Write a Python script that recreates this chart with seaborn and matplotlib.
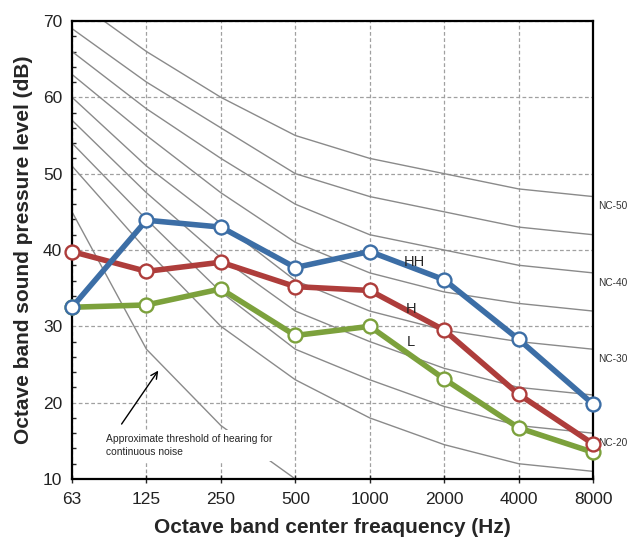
import numpy as np
import pandas as pd
import matplotlib
matplotlib.use("Agg")
import matplotlib.pyplot as plt
import seaborn as sns

freqs = ["63", "125", "250", "500", "1000", "2000", "4000", "8000"]

hh = [32.5, 43.9, 43.0, 37.7, 39.8, 36.1, 28.3, 19.8]
h = [39.8, 37.2, 38.4, 35.2, 34.7, 29.5, 21.1, 14.6]
l = [32.5, 32.8, 34.9, 28.8, 30.0, 23.1, 16.7, 13.5]

nc_names = ["NC-50", "NC-45", "NC-40", "NC-35", "NC-30", "NC-25", "NC-20", "NC-15"]
nc_values = [
    [73, 66, 60, 55, 52, 50, 48, 47],
    [69, 62, 56, 50, 47, 45, 43, 42],
    [66, 58.5, 52, 46, 42, 40, 38, 37],
    [63, 55, 47.5, 41, 37, 34.5, 33, 32],
    [60, 51, 43.5, 36, 32, 29.5, 28, 27],
    [57, 47.5, 39, 32, 28, 24.5, 22, 21],
    [54, 44, 34.5, 27, 23, 19.5, 17, 16],
    [51, 40, 30, 23, 18, 14.5, 12, 11],
]
nc_labeled = ["NC-50", "NC-40", "NC-30", "NC-20"]

threshold = [45, 27, 17, 10]

sns.set_theme(style="white")
plt.rcParams["font.family"] = ["Liberation Sans", "DejaVu Sans"]

fig = plt.figure(figsize=(6.35, 5.41), dpi=100)
ax = fig.add_axes([0.1134, 0.1146, 0.8206, 0.8466])

pos = list(range(len(freqs)))

# NC curves
for name, vals in zip(nc_names, nc_values):
    d = pd.DataFrame({"x": pos, "y": vals})
    sns.lineplot(data=d, x="x", y="y", ax=ax, color="#8a8a8a", linewidth=1.0,
                 zorder=2, legend=False)
    if name in nc_labeled:
        ax.text(7.07, vals[-1] - 1.3, name, fontsize=7.3, va="center", ha="left",
                color="#333333", clip_on=False)

# threshold
d = pd.DataFrame({"x": pos[:len(threshold)], "y": threshold})
sns.lineplot(data=d, x="x", y="y", ax=ax, color="#8a8a8a", linewidth=1.0,
             zorder=2, legend=False)

series = [("HH", hh, "#3c6ea6"), ("H", h, "#ae3d3b"), ("L", l, "#7ca13c")]
for name, vals, col in series[::-1]:
    d = pd.DataFrame({"x": pos, "y": vals})
    sns.lineplot(data=d, x="x", y="y", ax=ax, color=col, linewidth=4.0,
                 marker="o", markersize=10, markerfacecolor="white",
                 markeredgecolor=col, markeredgewidth=1.7, zorder=5,
                 legend=False, clip_on=False)

ax.text(4.6, 38.4, "HH", fontsize=10.5, ha="center", va="center", zorder=6)
ax.text(4.56, 32.3, "H", fontsize=10.5, ha="center", va="center", zorder=6)
ax.text(4.55, 27.9, "L", fontsize=10.5, ha="center", va="center", zorder=6)

ax.text(0.457, 14.4, "Approximate threshold of hearing for\ncontinuous noise",
        fontsize=7.4, ha="left", va="center", zorder=4, linespacing=1.35,
        bbox=dict(facecolor="white", edgecolor="none", pad=3))
ax.annotate("", xy=(1.18, 24.5), xytext=(0.645, 16.9),
            arrowprops=dict(arrowstyle="->", color="black", lw=1.0), zorder=4)

ax.set_xlim(0, 7)
ax.set_ylim(10, 70)
ax.set_xticks(pos)
ax.set_xticklabels(freqs, fontsize=12.5)
ax.set_yticks(range(10, 71, 10))
ax.set_yticks(range(10, 71, 2), minor=True)
ax.tick_params(axis="y", which="major", labelsize=12.5, direction="in", length=5,
               width=1, colors="black", pad=7)
ax.tick_params(axis="y", which="minor", direction="in", length=3, width=1,
               left=True)
ax.tick_params(axis="x", which="major", direction="inout", length=6, width=1,
               pad=6, bottom=True)
for t in ax.get_xticklabels() + ax.get_yticklabels():
    t.set_color("#222222")

ax.grid(True, which="major", color="#a0a0a0", linestyle=(0, (3, 2)), linewidth=0.9)
ax.set_axisbelow(True)

for s in ax.spines.values():
    s.set_color("black")
    s.set_linewidth(1.6)
    s.set_visible(True)

ax.set_xlabel("Octave band center freaquency (Hz)", fontsize=15, fontweight="bold",
              labelpad=8)
ax.set_ylabel("Octave band sound pressure level (dB)", fontsize=15,
              fontweight="bold", labelpad=7)

fig.savefig("out.png", dpi=100, facecolor="white")
